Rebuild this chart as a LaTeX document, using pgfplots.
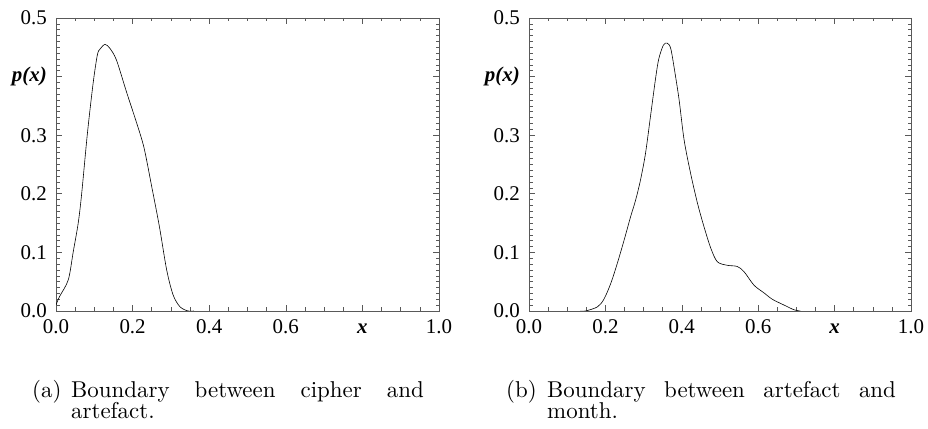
\documentclass[border=0pt]{standalone}
\usepackage{fontspec}
\usepackage{graphicx}
\usepackage{pgfplots}
\pgfplotsset{compat=1.18}
\newfontfamily\tnr{Liberation Serif}
\newcommand\capsc[1]{\scalebox{2.3}{\fontsize{10}{12}\selectfont #1}}
\begin{document}
\begin{tikzpicture}
\path[use as bounding box] (0bp,0bp) rectangle (928bp,429bp);
\pgfplotsset{
 myax/.style={
  scale only axis, width=383bp, height=293bp,
  xmin=0,xmax=1,ymin=0,ymax=0.5,
  xtick={0,0.2,0.4,0.6,0.8,1.0},
  xticklabels={0.0,0.2,0.4,0.6,\textbf{\textit{x}},1.0},
  ytick={0,0.1,0.2,0.3,0.4,0.5},
  yticklabels={0.0,0.1,0.2,0.3,\textbf{\textit{p(x)}},0.5},
  minor x tick num=3, minor y tick num=9,
  tick align=inside,
  major tick length=6bp, minor tick length=3.5bp,
  axis line style={black!65, line width=0.8pt},
  every tick/.style={black!65, line width=0.6pt},
  ticklabel style={font=\tnr\fontsize{21}{21}\selectfont, text=black, inner sep=0pt},
  xticklabel style={yshift=-8bp, text height=14.3bp, text depth=0pt},
  yticklabel style={xshift=-9bp},
  anchor=south west,
 }}
\begin{axis}[myax, at={(56bp,118bp)}]
\addplot[black, line width=0.6pt, smooth] coordinates {
(0,0.01) (0.0087,0.024) (0.032,0.053) (0.045,0.101) (0.058,0.150) (0.067,0.2)
(0.082,0.303) (0.097,0.389) (0.108,0.437) (0.115,0.447) (0.128,0.455) (0.141,0.448)
(0.158,0.428) (0.184,0.374) (0.211,0.320) (0.230,0.278) (0.250,0.212) (0.270,0.144)
(0.289,0.070) (0.306,0.027) (0.324,0.007) (0.345,0.0) (0.36,0.0)
};
\end{axis}
\begin{axis}[myax, at={(529bp,118bp)}, width=382bp]
\addplot[black, line width=0.6pt, smooth] coordinates {
(0.135,0) (0.148,0) (0.179,0.007) (0.196,0.020) (0.214,0.047) (0.231,0.081) (0.249,0.121)
(0.266,0.161) (0.279,0.189) (0.292,0.224) (0.305,0.269) (0.319,0.337) (0.332,0.400)
(0.340,0.431) (0.352,0.454) (0.362,0.457) (0.371,0.448) (0.381,0.411) (0.393,0.360)
(0.406,0.292) (0.423,0.235) (0.441,0.184) (0.458,0.144) (0.476,0.107) (0.493,0.084)
(0.519,0.078) (0.545,0.076) (0.563,0.067) (0.589,0.044) (0.615,0.031) (0.637,0.020)
(0.668,0.010) (0.694,0.002) (0.71,0)
};
\end{axis}
\tikzset{capt/.style={anchor=base west, inner sep=0pt}}
\node[capt] at (32bp,31bp) {\capsc{(a)}};
\node[capt] at (71bp,31bp) {\capsc{\makebox[153.9pt][s]{Boundary between cipher and}}};
\node[capt] at (71bp,10bp) {\capsc{artefact.}};
\node[capt] at (506bp,31bp) {\capsc{(b)}};
\node[capt] at (547bp,31bp) {\capsc{\makebox[152.2pt][s]{Boundary between artefact and}}};
\node[capt] at (547bp,10bp) {\capsc{month.}};
\end{tikzpicture}
\end{document}
